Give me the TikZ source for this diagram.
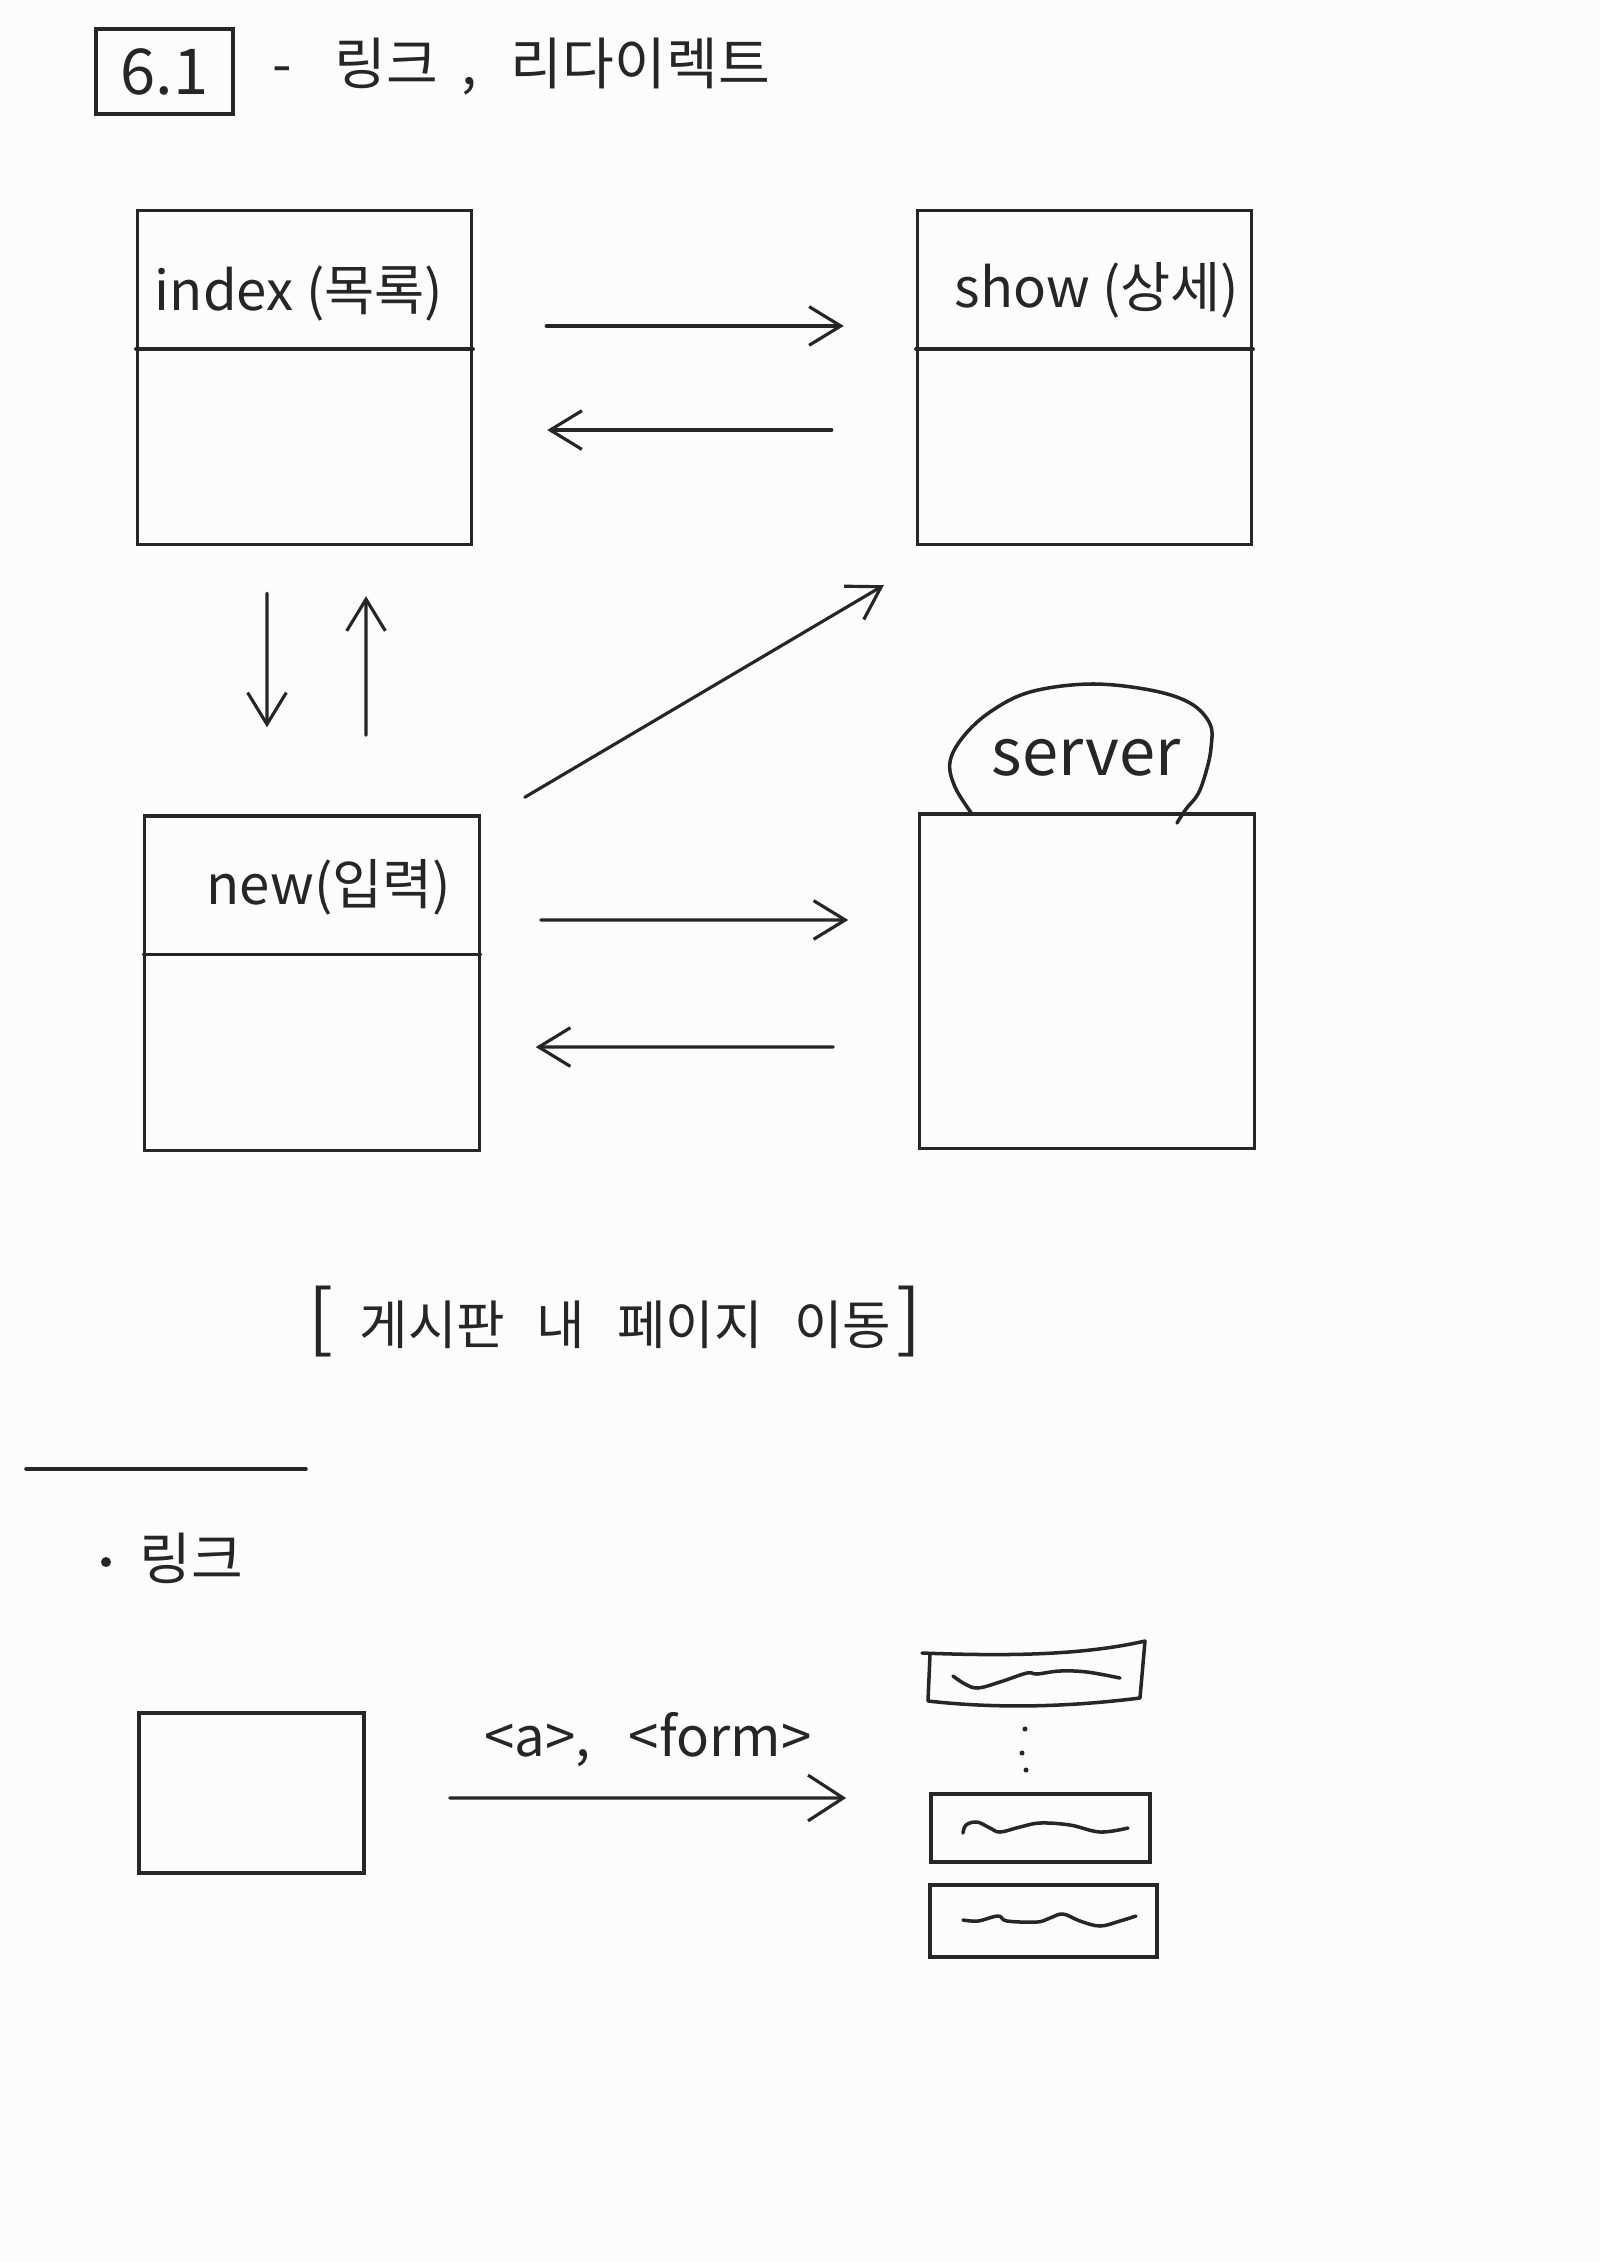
\documentclass[tikz,border=0pt]{standalone}
\usepackage{fontspec}
\setmainfont{Noto Sans CJK KR}
\usetikzlibrary{arrows.meta}

\definecolor{ink}{HTML}{262626}
\definecolor{paper}{HTML}{FCFCFC}

\tikzstyle{page} = [rectangle, draw=ink, line width=0.9pt,
    minimum width=3.34cm, minimum height=3.34cm]
\tikzstyle{row} = [rectangle, draw=ink, line width=1pt,
    minimum width=2.2cm, minimum height=0.68cm]
\tikzstyle{numbox} = [rectangle, draw=ink, line width=0.9pt, text=ink,
    minimum width=1.37cm, minimum height=0.85cm, font=\fontsize{18}{21}\selectfont]
\tikzstyle{pagelbl} = [text=ink, inner sep=0pt, font=\fontsize{15.5}{18}\selectfont]
\tikzstyle{note} = [text=ink, inner sep=0pt, font=\fontsize{16}{19}\selectfont]
\tikzstyle{link} = [draw=ink, line width=0.9pt, line cap=round,
    -{Straight Barb[length=9pt,width=11pt]}]
\tikzstyle{scribble} = [draw=ink, line width=1pt, line cap=round, line join=round]

\begin{document}
\begin{tikzpicture}[x=0.01cm, y=-0.01cm]
	\fill[paper] (0,0) rectangle (1600,2262);
	\useasboundingbox (0,0) rectangle (1600,2262);
	%
	\node [numbox] (num) at (164.5,71.5) {6.1};
	\node [note, anchor=west] (ttl) at (272,67) {-\hspace{0.75em}링크\hspace{0.42em},\hspace{0.6em}리다이렉트};
	%
	\node [page] (index) at (304.5,377.5) {};
	\node [page] (show) at (1084.5,377.5) {};
	\node [page] (new) at (312,983) {};
	\node [page] (server) at (1087,981) {};
	\draw [scribble] ([yshift=-1.4cm]index.north west) -- ([yshift=-1.4cm]index.north east);
	\draw [scribble] ([yshift=-1.4cm]show.north west) -- ([yshift=-1.4cm]show.north east);
	\draw [scribble] ([yshift=-1.4cm]new.north west) -- ([yshift=-1.4cm]new.north east);
	%
	\node [pagelbl] (indexlbl) at (299,294) {index (목록)};
	\node [pagelbl] (showlbl) at (1097,290) {show (상세)};
	\node [pagelbl] (newlbl) at (329,887) {new(입력)};
	\node [note, font=\fontsize{18.5}{21}\selectfont] (serverlbl) at (1086,758) {server};
	\draw [scribble] plot [smooth, tension=0.6] coordinates {(972,814) (955,787) (950,762)
		(963,737) (990,712) (1030,692) (1090,684) (1150,690) (1190,703) (1210,724)
		(1211,748) (1206,772) (1198,794) (1186,809) (1177,823)};
	%
	\draw [link] ([xshift=.73cm,yshift=.515cm]index.east) -- ([xshift=-.72cm,yshift=.515cm]show.west);
	\draw [link] ([xshift=-.84cm,yshift=-.525cm]show.west) -- ([xshift=.74cm,yshift=-.525cm]index.east);
	\draw [link] ([xshift=-.375cm,yshift=-.47cm]index.south) -- ([xshift=-.45cm,yshift=.87cm]new.north);
	\draw [link] ([xshift=.54cm,yshift=.79cm]new.north) -- ([xshift=.615cm,yshift=-.5cm]index.south);
	\draw [link] ([xshift=.44cm,yshift=.17cm]new.north east) -- ([xshift=-.32cm,yshift=-.39cm]show.south west);
	\draw [link] ([xshift=.6cm,yshift=.63cm]new.east) -- ([xshift=-.7cm,yshift=.61cm]server.west);
	\draw [link] ([xshift=-.85cm,yshift=-.66cm]server.west) -- ([xshift=.55cm,yshift=-.64cm]new.east);
	%
	\node [note, font=\fontsize{15}{18}\selectfont] (caption) at (615,1322)
		{{\fontsize{21}{23}\selectfont[}\hspace{0.5em}게시판\hspace{0.6em}내\hspace{0.6em}페이지\hspace{0.6em}이동\hspace{0.1em}{\fontsize{21}{23}\selectfont]}};
	\draw [scribble] (26,1469) -- (306,1469);
	\fill [ink] (106,1562) circle (5);
	\node [note] (linkttl) at (191,1558) {링크};
	%
	\node [page, minimum width=2.25cm, minimum height=1.6cm] (src) at (251.5,1793) {};
	\draw [scribble] (922,1653) .. controls (1000,1656) and (1080,1656) .. (1145,1641)
		-- (1140,1698) .. controls (1060,1708) and (990,1708) .. (928,1701) -- (930,1655);
	\node [row, minimum width=2.19cm] (row2) at (1040.5,1828) {};
	\node [row, minimum width=2.27cm, minimum height=0.72cm] (row3) at (1043.5,1921) {};
	\draw [scribble] plot [smooth, tension=0.6] coordinates {(953,1676) (965,1684) (978,1688)
		(1000,1682) (1027,1673) (1037,1674) (1060,1671) (1087,1672) (1120,1678)};
	\draw [scribble] plot [smooth, tension=0.6] coordinates {(963,1833) (966,1825) (977,1822)
		(990,1828) (1000,1832) (1020,1827) (1040,1823) (1070,1825) (1100,1832) (1128,1828)};
	\draw [scribble] plot [smooth, tension=0.6] coordinates {(963,1920) (978,1921) (998,1916)
		(1007,1921) (1037,1922) (1050,1918) (1063,1914) (1080,1921) (1100,1926) (1120,1921) (1136,1916)};
	\fill [ink] (1025,1729) circle (2.5);
	\fill [ink] (1022,1753) circle (2.5);
	\fill [ink] (1026,1770) circle (2.5);
	%
	\draw [link, -{Straight Barb[length=10pt,width=13pt]}] ([xshift=.84cm,yshift=-.05cm]src.east)
		-- node [note, midway, above=0.3cm, font=\fontsize{15.5}{18}\selectfont] (tags) {<a>,\hspace{0.7em}<form>}
		([xshift=-.83cm,yshift=.3cm]row2.west);
\end{tikzpicture}
\end{document}
